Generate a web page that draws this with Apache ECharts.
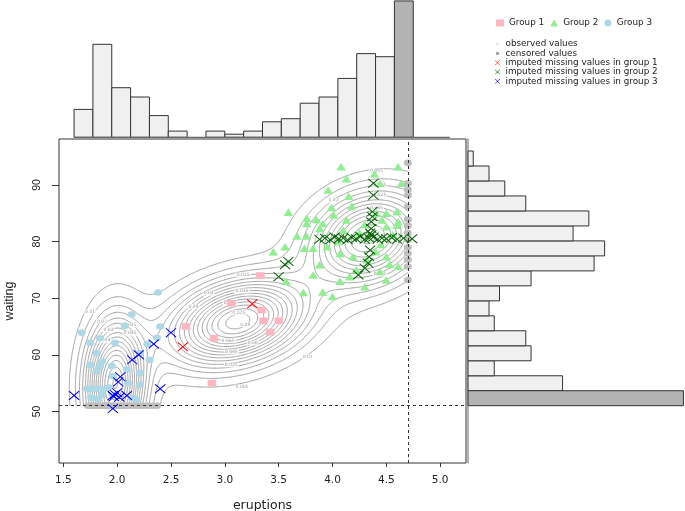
<!DOCTYPE html>
<html><head><meta charset="utf-8">
<script src="https://cdn.jsdelivr.net/npm/echarts@6/dist/echarts.min.js"></script>
<style>html,body{margin:0;padding:0;background:#fff}#c{width:685px;height:511px}</style>
</head><body><div id="c"></div>
<script>
// ---------------- data ----------------
const xTicks = [1.5, 2.0, 2.5, 3.0, 3.5, 4.0, 4.5, 5.0];
const yTicks = [50, 60, 70, 80, 90];
const censorX = 4.7, censorY = 51;

// Group 1 (pink squares)
const g1X = [3.33, 3.06, 3.34, 3.36, 3.50, 3.42, 2.64, 2.90, 2.88];
const g1Y = [74.0, 69.1, 67.9, 66.0, 66.0, 64.0, 65.0, 62.9, 55.0];

// Group 2 (green triangles)
const g2X = [4.08, 4.61, 4.13, 4.39, 4.44, 4.64, 3.96, 4.15, 3.59, 3.99, 4.18, 4.60, 4.50, 3.76, 3.85, 3.76, 3.88, 3.67, 3.76, 3.91,
             4.13, 4.41, 4.61, 4.50, 3.56, 3.74, 3.82, 3.95, 4.07, 4.19, 4.32, 4.50, 4.61, 3.88, 4.22, 4.53, 4.16, 4.44, 3.82, 4.07,
             4.30, 4.50, 3.57, 3.73, 3.91, 4.00, 3.45, 4.46, 4.60, 4.05, 4.25, 4.45, 4.56, 4.10, 4.30, 4.40, 4.01];
const g2Y = [93.2, 93.2, 91.1, 92.0, 90.3, 90.3, 89.1, 88.0, 85.2, 86.0, 86.3, 85.3, 85.0, 84.1, 83.9, 83.2, 82.3, 81.0, 81.0, 83.2,
             83.8, 85.0, 83.5, 82.6, 79.1, 78.8, 78.8, 79.1, 77.9, 77.3, 76.8, 77.3, 75.6, 75.9, 75.0, 76.0, 73.8, 74.7, 74.1, 73.0,
             72.0, 73.2, 73.0, 71.0, 71.1, 70.3, 78.2, 83.8, 82.9, 80.0, 81.6, 79.5, 81.2, 82.0, 83.0, 78.2, 84.7];

// Group 3 (blue circles)
const g3X = [2.38, 2.135, 2.07, 2.40, 1.67, 2.37, 1.84, 1.98, 1.75, 2.21, 2.30, 1.81, 1.75, 1.86, 1.81, 2.21, 2.10, 2.21, 1.76, 1.72,
             1.81, 1.87, 1.92, 2.18, 1.82, 1.76, 2.28, 2.09, 1.96, 2.14, 1.86, 1.84, 1.95];
const g3Y = [71.0, 67.1, 65.1, 65.0, 63.9, 63.0, 62.9, 62.1, 62.1, 60.3, 59.1, 60.3, 58.2, 58.8, 57.1, 56.8, 55.0, 54.7, 54.0, 54.0,
             54.0, 53.9, 54.2, 52.1, 52.2, 52.4, 61.9, 57.4, 56.2, 52.3, 52.9, 57.9, 58.0];

// censored values
const censWaitX = [1.73, 1.75, 1.77, 1.80, 1.82, 1.83, 1.85, 1.87, 1.88, 1.90, 1.92, 1.93, 1.95, 1.97, 1.98, 2.00, 2.02, 2.05,
                   2.08, 2.10, 2.13, 2.17, 2.20, 2.23, 2.27, 2.30, 2.33, 2.37];
const censEruptY = [93.9, 90.3, 89.2, 88.2, 86.2, 83.9, 82.8, 81.5, 80.3, 79.0, 77.9, 76.8, 75.6, 73.2];

// imputed missing values
const imp1X = [3.255, 2.61];
const imp1Y = [69.0, 61.4];
const imp2X = [4.38, 4.38, 4.37, 4.37, 4.36, 4.36, 4.35, 4.36, 4.35, 4.34, 4.33, 4.30, 4.24,
               3.88, 3.93, 3.98, 4.02, 4.06, 4.10, 4.14, 4.18, 4.22, 4.26, 4.30, 4.34, 4.38, 4.42, 4.46, 4.50, 4.55, 4.60, 4.66, 4.74,
               3.59, 3.56, 3.50];
const imp2Y = [90.3, 88.2, 85.3, 84.4, 83.5, 82.3, 81.5, 81.2, 78.5, 77.3, 76.2, 75.3, 74.1,
               80.4, 80.6, 80.3, 80.8, 80.5, 80.6, 80.3, 80.7, 80.5, 80.9, 80.4, 80.6, 80.8, 80.4, 80.6, 80.5, 80.7, 80.4, 80.6, 80.5,
               76.5, 75.9, 73.8];
const imp3X = [2.50, 2.34, 2.20, 2.14, 2.03, 2.01, 1.98, 1.97, 2.00, 1.96, 2.02, 2.09, 2.40, 1.60, 1.96];
const imp3Y = [63.9, 61.9, 60.0, 59.1, 56.1, 55.2, 53.0, 52.6, 53.3, 52.8, 52.5, 52.8, 54.0, 52.8, 50.5];

// marginal histograms
const topBreaks = [1.6, 1.775, 1.95, 2.125, 2.3, 2.475, 2.65, 2.825, 3.0, 3.175, 3.35, 3.525, 3.7, 3.875, 4.05, 4.225, 4.4, 4.575, 4.75];
const topCounts = [9, 30, 16, 13, 7, 2, 0, 2, 1, 2, 5, 6, 11, 13, 19, 27, 26, 44];
const topCensoredBin = 17;
const rightBreaks = [51, 53.65, 56.29, 58.94, 61.59, 64.24, 66.88, 69.53, 72.18, 74.82, 77.47, 80.12, 82.76, 85.41, 88.06, 90.71, 93.35, 96];
const rightCounts = [41, 18, 5, 12, 11, 5, 4, 6, 12, 24, 26, 20, 23, 11, 7, 4, 1];
const rightCensoredBin = 0;

// fitted mixture (contours)
const compMeanX = [3.12, 4.33, 1.98];
const compMeanY = [65.9, 80.6, 54.8];
const compSdX = [0.41, 0.35, 0.18];
const compSdY = [4.9, 5.4, 7.5];
const compRho = [0.3, 0.2, 0.05];
const compPeak = [0.083, 0.066, 0.08];
const contourLevels = [0.005, 0.01, 0.015, 0.02, 0.025, 0.03, 0.035, 0.04, 0.045, 0.05, 0.055, 0.06, 0.065, 0.07, 0.075, 0.08];
const contourDomainX = [1.5, 4.7];
const contourDomainY = [51, 96];

// contour labels
const labX = [3.17, 3.16, 2.85, 2.71, 3.05, 3.13, 3.19, 3.03, 3.26, 3.06, 3.06, 3.16, 3.77, 4.41, 4.44, 4.44, 4.01, 4.41, 4.44, 1.75, 1.86, 2.12, 1.92, 2.12, 1.89];
const labY = [74.1, 71.3, 70.9, 68.5, 69.1, 67.4, 65.3, 62.5, 62.1, 60.5, 58.2, 54.3, 59.7, 92.45, 90.1, 88.3, 87.3, 86.0, 74.3, 67.6, 65.9, 65.3, 64.4, 63.8, 62.6];
const labText = ['0.015', '0.035', '0.03', '0.04', '0.055', '0.075', '0.08', '0.065', '0.06', '0.045', '0.025', '0.005', '0.01', '0.005', '0.015', '0.025', '0.02', '0.045', '0.025', '0.01', '0.02', '0.035', '0.03', '0.045', '0.04'];

// ---------------- helpers ----------------
const zip = (a, b) => a.map((v, i) => [v, b[i]]);
function density(x, y) {
  let s = 0;
  for (let k = 0; k < compPeak.length; k++) {
    const zx = (x - compMeanX[k]) / compSdX[k];
    const zy = (y - compMeanY[k]) / compSdY[k];
    const r = compRho[k];
    const q = (zx * zx - 2 * r * zx * zy + zy * zy) / (1 - r * r);
    s += compPeak[k] * Math.exp(-0.5 * q);
  }
  return s;
}
function contourSegments() {
  const nx = 321, ny = 301;
  const xs = [], ys = [];
  for (let i = 0; i < nx; i++) xs.push(contourDomainX[0] + (contourDomainX[1] - contourDomainX[0]) * i / (nx - 1));
  for (let j = 0; j < ny; j++) ys.push(contourDomainY[0] + (contourDomainY[1] - contourDomainY[0]) * j / (ny - 1));
  const f = [];
  for (let i = 0; i < nx; i++) { const row = []; for (let j = 0; j < ny; j++) row.push(density(xs[i], ys[j])); f.push(row); }
  const segs = [];
  for (const L of contourLevels) {
    for (let i = 0; i < nx - 1; i++) {
      for (let j = 0; j < ny - 1; j++) {
        const c = [[xs[i], ys[j], f[i][j]], [xs[i + 1], ys[j], f[i + 1][j]], [xs[i + 1], ys[j + 1], f[i + 1][j + 1]], [xs[i], ys[j + 1], f[i][j + 1]]];
        const pts = [];
        for (let e = 0; e < 4; e++) {
          const a = c[e], b = c[(e + 1) % 4];
          if ((a[2] < L) !== (b[2] < L)) {
            const t = (L - a[2]) / (b[2] - a[2]);
            pts.push([a[0] + t * (b[0] - a[0]), a[1] + t * (b[1] - a[1])]);
          }
        }
        if (pts.length === 2) segs.push({ coords: [pts[0], pts[1]] });
        else if (pts.length === 4) { segs.push({ coords: [pts[0], pts[1]] }); segs.push({ coords: [pts[2], pts[3]] }); }
      }
    }
  }
  return segs;
}
const xPath = 'path://M0,0.7L0.7,0L5,4.3L9.3,0L10,0.7L5.7,5L10,9.3L9.3,10L5,5.7L0.7,10L0,9.3L4.3,5Z';
const smallSq = 'path://M0,0M10,10M2,2h6v6h-6z';

function topHist(params, api) {
  const c = api.value(2);
  if (!c) return null;
  const p0 = api.coord([api.value(0), 0]);
  const p1 = api.coord([api.value(1), c]);
  return { type: 'rect', shape: { x: p0[0], y: p1[1], width: p1[0] - p0[0], height: p0[1] - p1[1] },
           style: { fill: api.visual('color'), stroke: '#333', lineWidth: 1 } };
}
function rightHist(params, api) {
  const c = api.value(0);
  if (!c) return null;
  const p0 = api.coord([0, api.value(1)]);
  const p1 = api.coord([c, api.value(2)]);
  return { type: 'rect', shape: { x: p0[0], y: p1[1], width: p1[0] - p0[0], height: p0[1] - p1[1] },
           style: { fill: api.visual('color'), stroke: '#333', lineWidth: 1 } };
}
const topObs = [], topCen = [];
topCounts.forEach((c, i) => (i === topCensoredBin ? topCen : topObs).push([topBreaks[i], topBreaks[i + 1], c]));
const rightObs = [], rightCen = [];
rightCounts.forEach((c, i) => (i === rightCensoredBin ? rightCen : rightObs).push([c, rightBreaks[i], rightBreaks[i + 1]]));

const FONT = 'DejaVu Sans';
const chart = echarts.init(document.getElementById('c'), null, { renderer: 'canvas' });
chart.setOption({
  animation: false,
  backgroundColor: '#fff',
  grid: [
    { left: 59, top: 139, width: 407, height: 324, show: true, borderColor: '#333', borderWidth: 1, backgroundColor: 'rgba(0,0,0,0)', outerBoundsMode: 'none', containLabel: false },
    { left: 59, top: 0, width: 407, height: 137.3, outerBoundsMode: 'none', containLabel: false },
    { left: 468, top: 139, width: 217, height: 324, outerBoundsMode: 'none', containLabel: false }
  ],
  xAxis: [
    { gridIndex: 0, type: 'value', min: 1.46, max: 5.24, splitLine: { show: false }, axisLine: { show: false },
      axisTick: { show: true, customValues: xTicks, length: 4, lineStyle: { color: '#333' } },
      axisLabel: { customValues: xTicks, formatter: v => Number(v).toFixed(1), margin: 12, fontFamily: FONT, fontSize: 10.5, color: '#222' },
      name: 'eruptions', nameLocation: 'middle', nameGap: 36, nameTextStyle: { fontFamily: FONT, fontSize: 12.5, color: '#222' } },
    { gridIndex: 1, type: 'value', min: 1.46, max: 5.24, show: false },
    { gridIndex: 2, type: 'value', min: 0, max: 41.3, show: false }
  ],
  yAxis: [
    { gridIndex: 0, type: 'value', min: 40.88, max: 98.12, splitLine: { show: false }, axisLine: { show: false },
      axisTick: { show: true, customValues: yTicks, length: 7, lineStyle: { color: '#333' } },
      axisLabel: { customValues: yTicks, rotate: 90, margin: 16, fontFamily: 'Liberation Sans', fontSize: 10.5, color: '#222' },
      name: 'waiting', nameLocation: 'middle', nameGap: 43, nameTextStyle: { fontFamily: 'Liberation Sans', fontSize: 12.5, color: '#222' } },
    { gridIndex: 1, type: 'value', min: 0, max: 44.3, show: false },
    { gridIndex: 2, type: 'value', min: 40.88, max: 98.12, splitLine: { show: false },
      axisLine: { show: true, lineStyle: { color: '#999', width: 1.5 } }, axisTick: { show: false }, axisLabel: { show: false } }
  ],
  legend: [
    { left: 491, top: 13.5, orient: 'horizontal', itemWidth: 8, itemHeight: 7, itemGap: 6, selectedMode: false,
      textStyle: { fontFamily: FONT, fontSize: 8.8, color: '#222' },
      data: [
        { name: 'Group 1', icon: 'rect', itemStyle: { color: '#FFB6C1', borderWidth: 0 } },
        { name: 'Group 2', icon: 'triangle', itemStyle: { color: '#90EE90', borderWidth: 0 } },
        { name: 'Group 3', icon: 'circle', itemStyle: { color: '#ADD8E6', borderWidth: 0 } }
      ] },
    { left: 490, top: 34.5, orient: 'vertical', itemWidth: 6, itemHeight: 5, itemGap: 0, selectedMode: false,
      textStyle: { fontFamily: FONT, fontSize: 8.8, color: '#222', lineHeight: 9.3 },
      data: [
        { name: 'observed values', icon: smallSq, itemStyle: { color: '#EBEBEB', borderWidth: 0 } },
        { name: 'censored values', icon: smallSq, itemStyle: { color: '#A8A8A8', borderWidth: 0 } },
        { name: 'imputed missing values in group 1', icon: xPath, itemStyle: { color: '#FF0000', borderWidth: 0 } },
        { name: 'imputed missing values in group 2', icon: xPath, itemStyle: { color: '#006400', borderWidth: 0 } },
        { name: 'imputed missing values in group 3', icon: xPath, itemStyle: { color: '#0000FF', borderWidth: 0 } }
      ] }
  ],
  series: [
    { type: 'lines', name: 'contours', coordinateSystem: 'cartesian2d', xAxisIndex: 0, yAxisIndex: 0, polyline: false,
      large: true, largeThreshold: 100, silent: true, z: 1,
      lineStyle: { color: '#969696', width: 0.9, opacity: 1 }, data: contourSegments() },
    { type: 'scatter', name: 'contour labels', xAxisIndex: 0, yAxisIndex: 0, silent: true, z: 2, symbolSize: 0,
      data: labX.map((x, i) => [x, labY[i], labText[i]]),
      label: { show: true, position: 'inside', formatter: p => p.value[2], fontFamily: FONT, fontSize: 4.5, color: '#888',
               backgroundColor: '#fff', padding: [0, 1] } },
    { type: 'custom', name: 'observed values', xAxisIndex: 1, yAxisIndex: 1, renderItem: topHist, encode: { x: [0, 1], y: 2 },
      itemStyle: { color: '#F0F0F0' }, data: topObs, silent: true },
    { type: 'custom', name: 'censored values', xAxisIndex: 1, yAxisIndex: 1, renderItem: topHist, encode: { x: [0, 1], y: 2 },
      itemStyle: { color: '#B3B3B3' }, data: topCen, silent: true },
    { type: 'custom', name: 'observed values', xAxisIndex: 2, yAxisIndex: 2, renderItem: rightHist, encode: { x: 0, y: [1, 2] },
      itemStyle: { color: '#F0F0F0' }, data: rightObs, silent: true },
    { type: 'custom', name: 'censored values', xAxisIndex: 2, yAxisIndex: 2, renderItem: rightHist, encode: { x: 0, y: [1, 2] },
      itemStyle: { color: '#B3B3B3' }, data: rightCen, silent: true },
    { type: 'lines', name: 'hist baseline', coordinateSystem: 'cartesian2d', xAxisIndex: 1, yAxisIndex: 1, silent: true,
      lineStyle: { color: '#666', width: 1.3, opacity: 1 }, data: [{ coords: [[1.6, 0], [5.09, 0]] }] },
    { type: 'scatter', name: 'Group 1', xAxisIndex: 0, yAxisIndex: 0, z: 3, symbol: 'rect', symbolSize: [8.5, 6.7],
      itemStyle: { color: '#FFB6C1', opacity: 1 }, data: zip(g1X, g1Y) },
    { type: 'scatter', name: 'Group 2', xAxisIndex: 0, yAxisIndex: 0, z: 3, symbol: 'triangle', symbolSize: [9.5, 7.5],
      itemStyle: { color: '#90EE90', opacity: 1 }, data: zip(g2X, g2Y) },
    { type: 'scatter', name: 'Group 3', xAxisIndex: 0, yAxisIndex: 0, z: 3, symbol: 'circle', symbolSize: [8, 6.6],
      itemStyle: { color: '#ADD8E6', opacity: 1 }, data: zip(g3X, g3Y) },
    { type: 'scatter', name: 'censored values', xAxisIndex: 0, yAxisIndex: 0, z: 4, symbol: 'circle', symbolSize: [8, 6.6],
      itemStyle: { color: '#BEBEBE', opacity: 1 },
      data: zip(censWaitX, censWaitX.map(() => censorY)).concat(zip(censEruptY.map(() => censorX), censEruptY)),
      markLine: { silent: true, symbol: 'none', label: { show: false }, lineStyle: { type: [3, 3], color: '#333', width: 1 },
                  data: [{ xAxis: censorX }, { yAxis: censorY }] } },
    { type: 'scatter', name: 'imputed missing values in group 1', xAxisIndex: 0, yAxisIndex: 0, z: 5, symbol: xPath,
      symbolSize: [11, 9.5], itemStyle: { color: '#FF0000', opacity: 1 }, data: zip(imp1X, imp1Y) },
    { type: 'scatter', name: 'imputed missing values in group 2', xAxisIndex: 0, yAxisIndex: 0, z: 5, symbol: xPath,
      symbolSize: [11, 9.5], itemStyle: { color: '#006400', opacity: 1 }, data: zip(imp2X, imp2Y) },
    { type: 'scatter', name: 'imputed missing values in group 3', xAxisIndex: 0, yAxisIndex: 0, z: 5, symbol: xPath,
      symbolSize: [11, 9.5], itemStyle: { color: '#0000FF', opacity: 1 }, data: zip(imp3X, imp3Y) }
  ]
});
</script>
</body></html>
